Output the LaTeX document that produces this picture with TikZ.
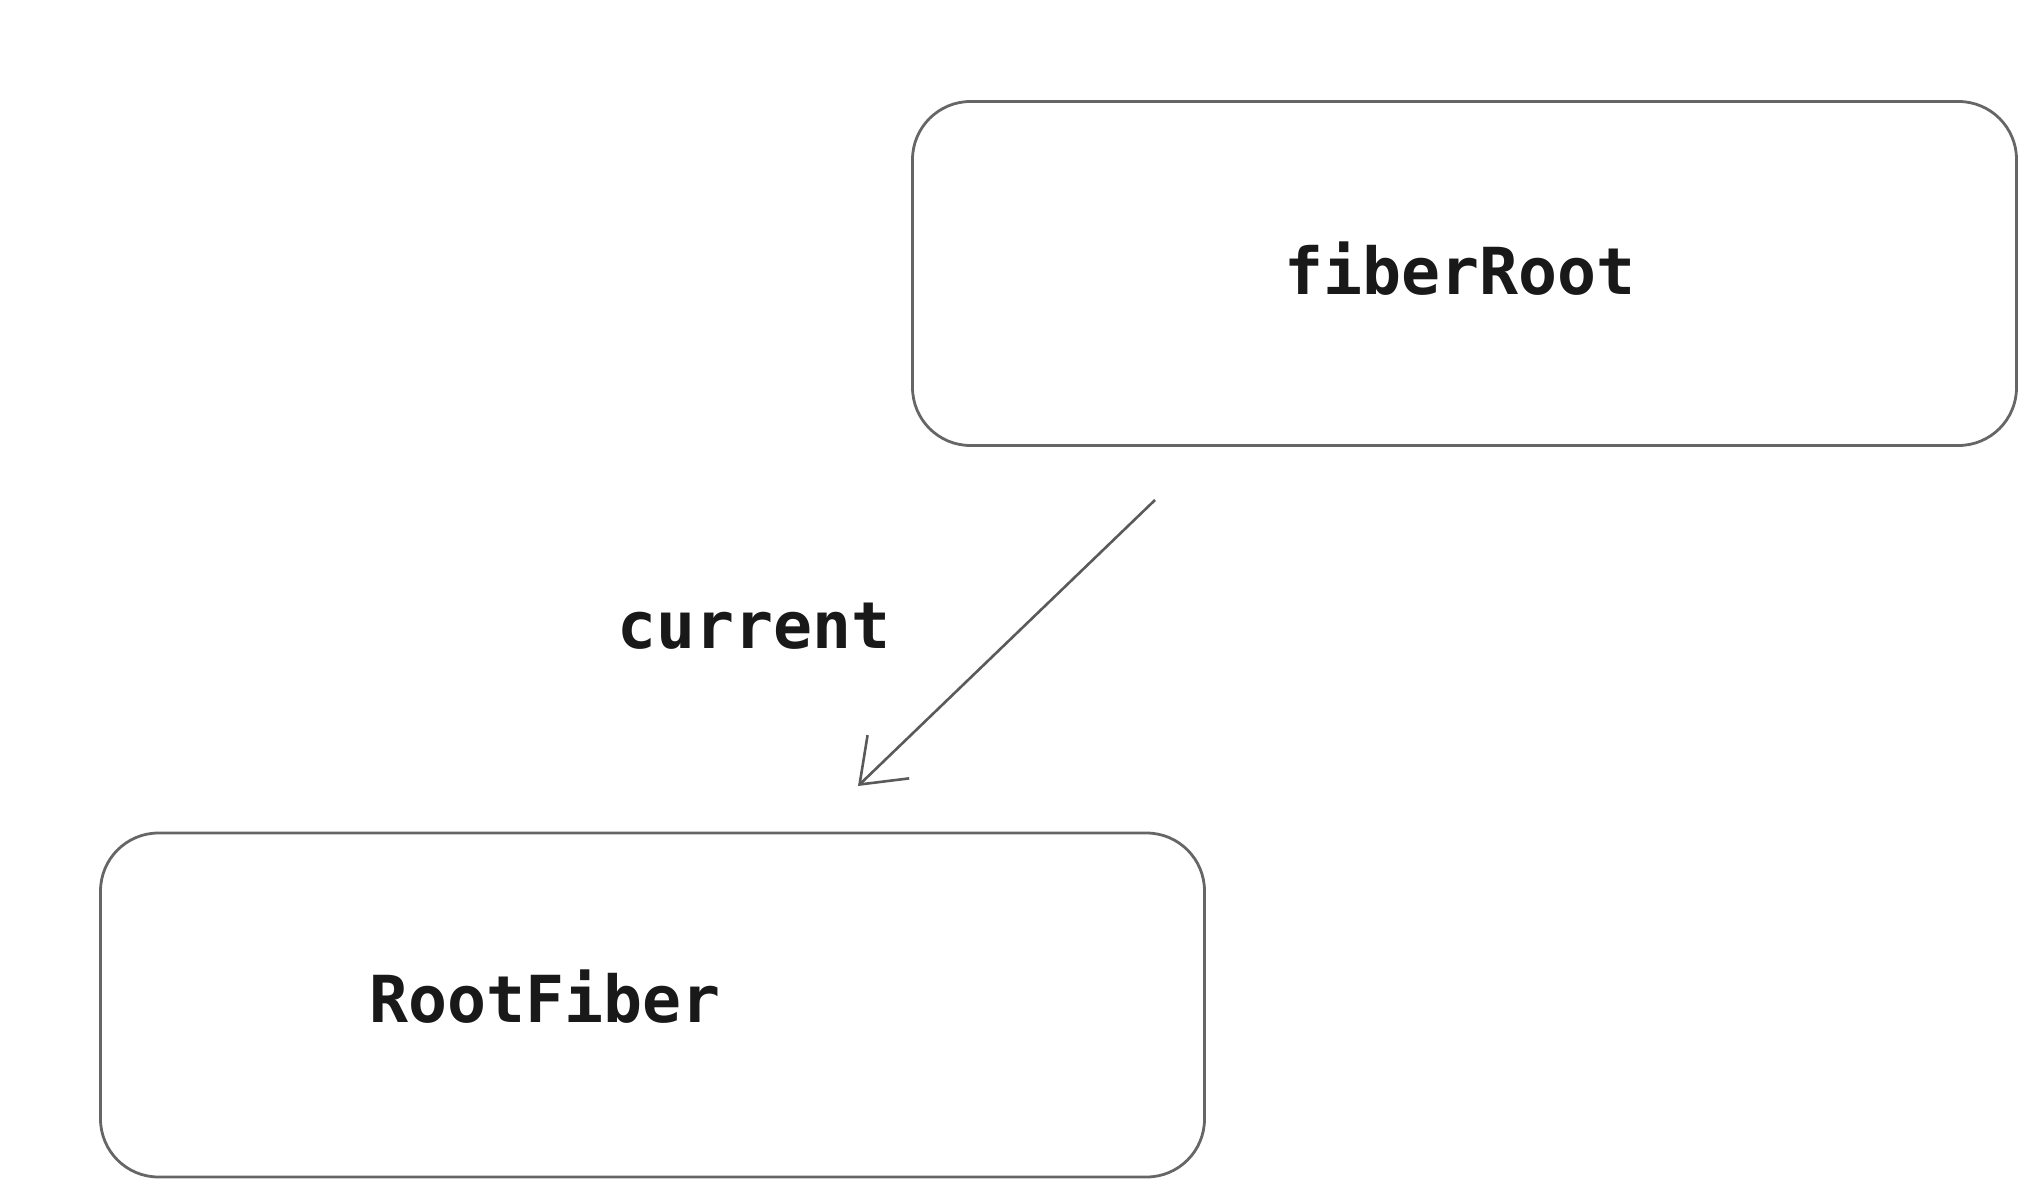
\documentclass[tikz,border=0pt]{standalone}
\usepackage{fontspec}
\setmonofont{DejaVu Sans Mono}
\usetikzlibrary{arrows.meta}
\definecolor{edgegray}{HTML}{666666}
\definecolor{arrowgray}{HTML}{5A5A5A}
\begin{document}
\begin{tikzpicture}[x=0.5pt,y=-0.5pt,
  box/.style={draw=edgegray, line width=1.4pt, rounded corners=29pt,
    minimum width=552pt, minimum height=172pt, inner sep=0pt},
  label/.style={font=\fontsize{32.4}{38}\selectfont\ttfamily\bfseries, text=black!90, inner sep=0pt},
  link/.style={draw=arrowgray, line width=1.3pt,
    -{Straight Barb[length=20pt,width=30pt,line width=1.3pt]}}]
  \useasboundingbox (0,0) rectangle (2038,1198);
  % upper structure
  \node[box] (fr) at (1464.5,273.5) {};
  \node[label] (frt) at (1460,269) {fiberRoot};
  % lower structure
  \node[box] (rf) at (652.5,1005) {};
  \node[label] (rft) at (545,997) {RootFiber};
  % pointer between them
  \coordinate (from) at (1155,500);
  \coordinate (to) at (858,786);
  \draw[link] (from) -- (to);
  \node[label] (cur) at (754,626) {current};
\end{tikzpicture}
\end{document}
